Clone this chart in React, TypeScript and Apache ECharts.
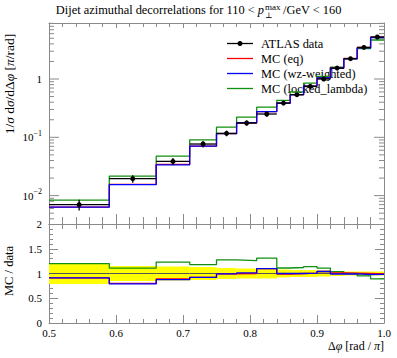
import React, { useEffect, useRef } from 'react';
import * as echarts from 'echarts';

// ---- data ----
const binEdges = [0.5, 0.59, 0.66, 0.71, 0.75, 0.78, 0.81, 0.84, 0.86, 0.88, 0.9, 0.92, 0.94, 0.96, 0.98, 1.0];
const atlasData = [0.0070, 0.0195, 0.0386, 0.0767, 0.117, 0.176, 0.251, 0.387, 0.538, 0.747, 1.0, 1.54, 2.23, 3.48, 5.25];
const atlasRelErr = [0.21, 0.15, 0.14, 0.13, 0.11, 0.10, 0.10, 0.08, 0.07, 0.07, 0.06, 0.05, 0.04, 0.04, 0.04];
const mcEq = [0.00637, 0.0156, 0.0344, 0.0706, 0.116, 0.176, 0.276, 0.383, 0.538, 0.754, 1.04, 1.555, 2.25, 3.48, 5.2];
const mcWz = [0.00637, 0.0154, 0.0338, 0.0706, 0.116, 0.178, 0.276, 0.387, 0.538, 0.754, 1.04, 1.525, 2.21, 3.41, 5.15];
const mcLocked = [0.0084, 0.0216, 0.0475, 0.0905, 0.149, 0.222, 0.329, 0.43, 0.603, 0.852, 1.11, 1.6, 2.23, 3.31, 4.67];
const legendNames = ['ATLAS data', 'MC (eq)', 'MC (wz-weighted)', 'MC (locked_lambda)'];
const seriesColors = ['#000000', '#ff0000', '#0000ff', '#109010'];

const FONT = '"Liberation Serif", "DejaVu Serif", serif';
const FRAME = '#8a8a8a';
const X_MIN = 0.5;
const X_MAX = 1.0;
const Y_MIN = 0.00326;
const Y_MAX = 9.13;

function stepData(vals: number[]) {
  return binEdges.map((e, i) => [e, vals[Math.min(i, vals.length - 1)]]);
}
function ratioStep(vals: number[]) {
  return stepData(vals.map((v, i) => v / atlasData[i]));
}

function logTicks(): number[] {
  const out: number[] = [];
  for (let e = -3; e <= 1; e++) {
    for (let k = 1; k <= 9; k++) {
      const v = k * Math.pow(10, e);
      if (v > Y_MIN && v < Y_MAX) out.push(v);
    }
  }
  return out;
}

export default function App() {
  const ref = useRef<HTMLDivElement>(null);
  useEffect(() => {
    if (!ref.current) return;
    const chart = echarts.init(ref.current, undefined, { renderer: 'svg' });
    const gLeft = 49, gWidth = 335;
    const mainTop = 23, mainH = 201, ratioTop = 224, ratioH = 99;

    const xBase = (gi: number, pos: string, major: number, minor: number, labels: boolean) => ({
      type: 'value', gridIndex: gi, position: pos, min: X_MIN, max: X_MAX, interval: 0.1,
      axisLine: { show: true, onZero: false, lineStyle: { color: FRAME, width: 1 } },
      axisTick: { show: true, inside: true, length: major, lineStyle: { color: FRAME } },
      minorTick: { show: true, splitNumber: 5, length: minor, lineStyle: { color: FRAME } },
      splitLine: { show: false },
      minorSplitLine: { show: false },
      axisLabel: {
        show: labels, margin: 4, fontFamily: FONT, fontSize: 11, color: '#000',
        formatter: (v: number) => v.toFixed(1),
      },
    });

    const ratioY = (pos: string, labels: boolean) => ({
      type: 'value', gridIndex: 1, position: pos, min: 0, max: 2, interval: 0.5,
      axisLine: { show: true, onZero: false, lineStyle: { color: FRAME } },
      axisTick: { show: true, inside: true, length: 9, lineStyle: { color: FRAME } },
      minorTick: { show: true, splitNumber: 5, length: 4, lineStyle: { color: FRAME } },
      splitLine: { show: false },
      axisLabel: {
        show: labels, margin: 7, fontFamily: FONT, fontSize: 11, color: '#000',
        formatter: (v: number) => String(v),
      },
    });

    const logY = (pos: string, labels: boolean) => ({
      type: 'log', logBase: 10, gridIndex: 0, position: pos, min: Y_MIN, max: Y_MAX,
      axisLine: { show: true, onZero: false, lineStyle: { color: FRAME } },
      axisTick: { show: false },
      minorTick: { show: false },
      splitLine: { show: false },
      axisLabel: {
        show: labels, margin: 7, fontFamily: FONT, fontSize: 11, color: '#000',
        showMinLabel: true, showMaxLabel: true,
        formatter: (v: number) => {
          const e = Math.log10(v);
          if (Math.abs(e - Math.round(e)) > 1e-6) return '';
          const r = Math.round(e);
          if (r === 0) return '1';
          return '{b|10}{s|' + (r < 0 ? '\u2212' : '') + Math.abs(r) + '}';
        },
        rich: {
          b: { fontFamily: FONT, fontSize: 11, color: '#000' },
          s: { fontFamily: FONT, fontSize: 8, color: '#000', padding: [0, 0, 8, 0] },
        },
      },
    });

    const lineStep = (name: string, data: number[][], color: string, xi: number, yi: number, z: number) => ({
      name, type: 'line', xAxisIndex: xi, yAxisIndex: yi, data, step: 'end',
      symbol: 'none', silent: true, z,
      lineStyle: { color, width: 1.3 },
    });

    const tickVals = logTicks().map((v) => [X_MIN, v]);

    const option: any = {
      animation: false,
      backgroundColor: '#ffffff',
      grid: [
        { left: gLeft, top: mainTop, width: gWidth, height: mainH, containLabel: false, outerBoundsMode: 'none' },
        { left: gLeft, top: ratioTop, width: gWidth, height: ratioH, containLabel: false, outerBoundsMode: 'none' },
      ],
      xAxis: [
        xBase(0, 'bottom', 10, 7, false),
        xBase(0, 'top', 5, 4, false),
        xBase(1, 'top', 5, 5, false),
        xBase(1, 'bottom', 8, 4, true),
      ],
      yAxis: [logY('left', true), logY('right', false), ratioY('left', true), ratioY('right', false)],
      series: [
        // log-axis tick marks (both sides)
        {
          type: 'custom', xAxisIndex: 0, yAxisIndex: 0, data: tickVals, silent: true, z: 1,
          encode: { x: 0, y: 1 },
          renderItem: (params: any, api: any) => {
            const v = api.value(1);
            const e = Math.log10(v);
            const major = Math.abs(e - Math.round(e)) < 1e-6;
            const len = major ? 10 : 5;
            const pl = api.coord([X_MIN, v]);
            const pr = api.coord([X_MAX, v]);
            return {
              type: 'group',
              children: [
                { type: 'line', shape: { x1: pl[0], y1: pl[1], x2: pl[0] + len, y2: pl[1] }, style: { stroke: FRAME, lineWidth: 1 } },
                { type: 'line', shape: { x1: pr[0], y1: pr[1], x2: pr[0] - len, y2: pr[1] }, style: { stroke: FRAME, lineWidth: 1 } },
              ],
            };
          },
        },
        lineStep(legendNames[3], stepData(mcLocked), seriesColors[3], 0, 0, 3),
        lineStep(legendNames[1], stepData(mcEq), seriesColors[1], 0, 0, 4),
        lineStep(legendNames[2], stepData(mcWz), seriesColors[2], 0, 0, 5),
        {
          name: legendNames[0], type: 'custom', xAxisIndex: 0, yAxisIndex: 0, silent: true, z: 6,
          data: atlasData.map((v, i) => [binEdges[i], binEdges[i + 1], v, atlasRelErr[i]]),
          encode: { x: [0, 1], y: 2 },
          renderItem: (params: any, api: any) => {
            const xlo = api.value(0), xhi = api.value(1), y = api.value(2), e = api.value(3);
            const xc = (xlo + xhi) / 2;
            const pl = api.coord([xlo, y]);
            const pr = api.coord([xhi, y]);
            const pt = api.coord([xc, y * (1 + e)]);
            const pb = api.coord([xc, y * (1 - e)]);
            return {
              type: 'group',
              children: [
                { type: 'line', shape: { x1: pl[0], y1: pl[1], x2: pr[0], y2: pr[1] }, style: { stroke: '#000', lineWidth: 1.3 } },
                { type: 'line', shape: { x1: pt[0], y1: pt[1], x2: pb[0], y2: pb[1] }, style: { stroke: '#000', lineWidth: 1.3 } },
                { type: 'circle', shape: { cx: pt[0], cy: pl[1], r: 2.5 }, style: { fill: '#000' } },
              ],
            };
          },
        },
        // ratio panel: data uncertainty band
        {
          type: 'custom', xAxisIndex: 3, yAxisIndex: 2, silent: true, z: 1,
          data: atlasRelErr.map((e, i) => [binEdges[i], binEdges[i + 1], e]),
          encode: { x: [0, 1], y: 2 },
          renderItem: (params: any, api: any) => {
            const xlo = api.value(0), xhi = api.value(1), e = api.value(2);
            const a = api.coord([xlo, 1 + e]);
            const b = api.coord([xhi, 1 - e]);
            return { type: 'rect', shape: { x: a[0], y: a[1], width: b[0] - a[0], height: b[1] - a[1] }, style: { fill: '#ffff00' } };
          },
        },
        {
          type: 'line', xAxisIndex: 3, yAxisIndex: 2, symbol: 'none', silent: true, z: 2,
          data: stepData(atlasData.map(() => 1)),
          lineStyle: { color: '#555', width: 1 },
        },
        lineStep(legendNames[3] + ' ratio', ratioStep(mcLocked), seriesColors[3], 3, 2, 3),
        lineStep(legendNames[1] + ' ratio', ratioStep(mcEq), seriesColors[1], 3, 2, 4),
        lineStep(legendNames[2] + ' ratio', ratioStep(mcWz), seriesColors[2], 3, 2, 5),
      ],
      graphic: [
        {
          type: 'text', x: 264, y: 10,
          style: {
            text: 'Dijet azimuthal decorrelations for 110 < {i|p}',
            fontFamily: FONT, fontSize: 12.4, fill: '#000', align: 'right', verticalAlign: 'middle',
            rich: { i: { fontFamily: FONT, fontSize: 12.4, fontStyle: 'italic', fill: '#000' } },
          },
        },
        { type: 'text', x: 265, y: 6.5, style: { text: 'max', fontFamily: FONT, fontSize: 9, fill: '#000', align: 'left', verticalAlign: 'middle' } },
        { type: 'text', x: 265, y: 15, style: { text: '\u22A5', fontFamily: FONT, fontSize: 8, fill: '#000', align: 'left', verticalAlign: 'middle' } },
        { type: 'text', x: 283, y: 10, style: { text: '/GeV < 160', fontFamily: FONT, fontSize: 12.4, fill: '#000', align: 'left', verticalAlign: 'middle' } },
        {
          type: 'text', x: 9, y: 84, rotation: Math.PI / 2,
          style: {
            text: '1/{i|\u03C3} d{i|\u03C3}/d\u0394{i|\u03C6} [{i|\u03C0}/rad]',
            fontFamily: FONT, fontSize: 13.5, fill: '#000', align: 'center', verticalAlign: 'middle',
            rich: { i: { fontFamily: FONT, fontSize: 13.5, fontStyle: 'italic', fill: '#000' } },
          },
        },
        {
          type: 'text', x: 9, y: 271, rotation: Math.PI / 2,
          style: { text: 'MC / data', fontFamily: FONT, fontSize: 12.5, fill: '#000', align: 'center', verticalAlign: 'middle' },
        },
        {
          type: 'text', x: 384, y: 346,
          style: {
            text: '\u0394{i|\u03C6} [rad / {i|\u03C0}]',
            fontFamily: FONT, fontSize: 12, fill: '#000', align: 'right', verticalAlign: 'middle',
            rich: { i: { fontFamily: FONT, fontSize: 12, fontStyle: 'italic', fill: '#000' } },
          },
        },
        // legend
        ...legendNames.flatMap((n, i) => {
          const y = 43.5 + i * 15;
          const items: any[] = [
            { type: 'line', shape: { x1: 227, y1: y, x2: 253, y2: y }, style: { stroke: seriesColors[i], lineWidth: 1.3 } },
            { type: 'text', x: 261, y, style: { text: n, fontFamily: FONT, fontSize: 12.4, fill: '#000', align: 'left', verticalAlign: 'middle' } },
          ];
          if (i === 0) items.push({ type: 'circle', shape: { cx: 240, cy: y, r: 2.5 }, style: { fill: '#000' } });
          return items;
        }),
      ],
    };
    chart.setOption(option);
    return () => chart.dispose();
  }, []);
  return <div ref={ref} style={{ position: 'fixed', left: 0, top: 0, width: 397, height: 358 }} />;
}
